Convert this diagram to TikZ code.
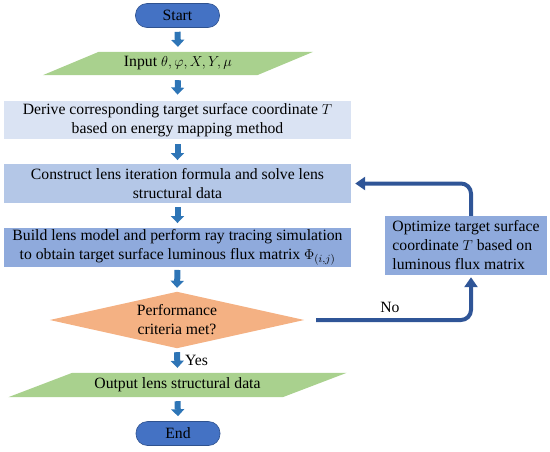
\documentclass[tikz,border=0pt]{standalone}
\usepackage{fontspec}
\setmainfont{Liberation Serif}
\usetikzlibrary{arrows.meta,calc,backgrounds}
\definecolor{pill}{HTML}{4472C4}
\definecolor{pillborder}{HTML}{2F528F}
\definecolor{pgreen}{HTML}{A9D18E}
\definecolor{boxa}{HTML}{DAE3F3}
\definecolor{boxb}{HTML}{B4C7E7}
\definecolor{boxc}{HTML}{8FAADC}
\definecolor{dorange}{HTML}{F4B183}
\definecolor{barrowc}{HTML}{2E75B6}
\definecolor{loopc}{HTML}{2F5597}
\begin{document}
\begin{tikzpicture}[x=1pt,y=-1pt,
  every node/.style={font=\fontsize{15.7}{19}\selectfont, inner sep=0pt, align=center, text=black},
  pillnode/.style={rounded corners=11.5pt, fill=pill, draw=pillborder, line width=0.6pt, minimum width=84pt, minimum height=24pt},
  procbox/.style={minimum width=347pt, minimum height=38.5pt},
  barrow/.style={draw=barrowc, line width=6pt, -{Triangle[length=7pt,width=13pt]}},
  looparrow/.style={draw=loopc, line width=4pt, rounded corners=10pt, -{Triangle[length=10pt,width=13pt]}}
]
\useasboundingbox (0,0) rectangle (550,451);

\node[pillnode] (start) at (177.5,15.5) {Start};
\node[minimum width=214pt, minimum height=23pt] (input) at (178,63.5) {Input $\theta, \varphi, X, Y, \mu$};
\node[procbox, fill=boxa] (derive) at (177.5,120) {Derive corresponding target surface coordinate $T$\\based on energy mapping method};
\node[procbox, fill=boxb] (construct) at (177.5,183.5) {Construct lens iteration formula and solve lens\\structural data};
\node[procbox, fill=boxc] (build) at (177.5,247.5) {Build lens model and perform ray tracing simulation\\to obtain target surface luminous flux matrix $\Phi_{(i,j)}$};
\node[minimum width=254pt, minimum height=56pt] (dec) at (177,320) {Performance\\criteria met?};
\node[minimum width=274pt, minimum height=24pt] (output) at (177.5,385) {Output lens structural data};
\node[pillnode] (end) at (178,433.5) {End};
\node[fill=boxc, minimum width=162pt, minimum height=59pt, align=left] (opt) at (466,245.5) {Optimize target surface\\coordinate $T$ based on\\luminous flux matrix};
\node (no) at (390,307) {No};
\node[anchor=west] (yes) at (185,360) {Yes};

\begin{scope}[on background layer]
  \fill[pgreen] ($(input.south west)+(-28,0)$) -- ($(input.north west)+(28,0)$) -- ($(input.north east)+(28,0)$) -- ($(input.south east)+(-28,0)$) -- cycle;
  \fill[pgreen] ($(output.south west)+(-32,0)$) -- ($(output.north west)+(32,0)$) -- ($(output.north east)+(32,0)$) -- ($(output.south east)+(-32,0)$) -- cycle;
  \fill[dorange] (dec.west) -- (dec.north) -- (dec.east) -- (dec.south) -- cycle;
\end{scope}

\draw[barrow] ([yshift=-4pt]start.south) -- ([yshift=5pt]input.north);
\draw[barrow] ([yshift=-5pt]input.south) -- ([yshift=6pt]derive.north);
\draw[barrow] ([yshift=-5pt]derive.south) -- ([yshift=4pt]construct.north);
\draw[barrow] ([yshift=-4pt]construct.south) -- ([yshift=5pt]build.north);
\draw[barrow] ([yshift=-3pt]build.south) -- ([yshift=4pt]dec.north);
\draw[barrow] ([yshift=-4pt]dec.south) -- ([yshift=5pt]output.north);
\draw[barrow] ([yshift=-4pt]output.south) -- ([yshift=5pt]end.north);

\draw[looparrow] ([xshift=12pt]dec.east) -| ([xshift=5pt,yshift=-2pt]opt.south);
\draw[looparrow] ([xshift=5pt]opt.north) |- ([xshift=4pt]construct.east);
\end{tikzpicture}
\end{document}
